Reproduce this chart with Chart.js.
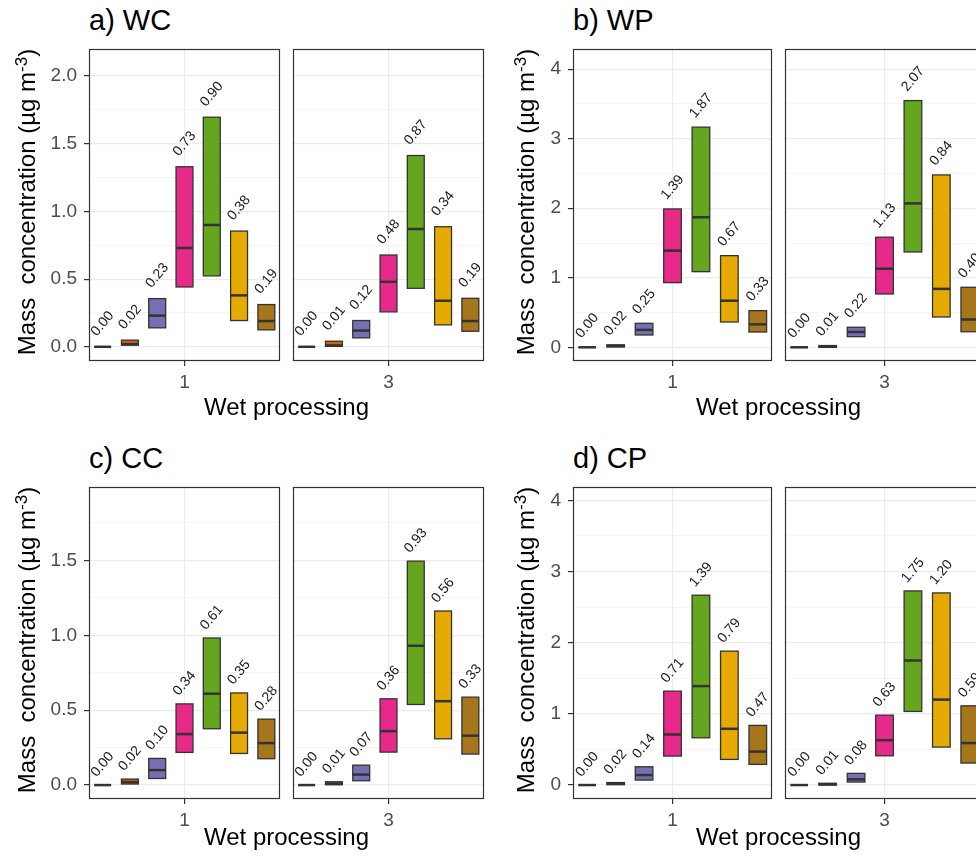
<!DOCTYPE html>
<html>
<head>
<meta charset="utf-8">
<script src="https://cdn.jsdelivr.net/npm/chart.js@4.4.0/dist/chart.umd.min.js"></script>
<style>
  body { margin: 0; background: #fff; }
  #fig { position: relative; width: 976px; height: 862px; overflow: hidden; background: #fff;
         font-family: "Liberation Sans", Arial, sans-serif; color: #000; }
  #fig canvas { position: absolute; }
  .ttl { position: absolute; font-size: 29px; line-height: 29px; white-space: nowrap; }
  .xt { position: absolute; width: 400px; font-size: 24px; line-height: 24px; text-align: center; white-space: nowrap; }
  .yt { position: absolute; width: 340px; height: 30px; font-size: 24px; line-height: 30px; text-align: center;
        white-space: pre; transform: rotate(-90deg); }
  .yt sup { font-size: 17px; line-height: 0; vertical-align: 0.5em; }
</style>
</head>
<body>
<div id="fig"></div>
<script>
// facets (x categories) and one colour per size class
const facets = ['1', '3'];
const seriesColors = ['#1B9E77', '#D95F02', '#7570B3', '#E7298A', '#66A61E', '#E6AB02', '#A6761D'];

// a) WC  -- [facet 1, facet 3]
const wcLow    = [[0, 0.012, 0.14, 0.442, 0.524, 0.194, 0.125], [0, 0.004, 0.066, 0.258, 0.432, 0.162, 0.115]];
const wcMedian = [[0.00, 0.02, 0.23, 0.73, 0.90, 0.38, 0.19], [0.00, 0.01, 0.12, 0.48, 0.87, 0.34, 0.19]];
const wcHigh   = [[0, 0.049, 0.356, 1.33, 1.696, 0.855, 0.312], [0, 0.041, 0.194, 0.678, 1.413, 0.887, 0.358]];
const wcTicks  = [0, 0.5, 1, 1.5, 2];

// b) WP
const wpLow    = [[0, 0.005, 0.177, 0.93, 1.088, 0.364, 0.22], [0, 0, 0.153, 0.767, 1.371, 0.436, 0.224]];
const wpMedian = [[0.00, 0.02, 0.25, 1.39, 1.87, 0.67, 0.33], [0.00, 0.01, 0.22, 1.13, 2.07, 0.84, 0.40]];
const wpHigh   = [[0, 0.035, 0.345, 1.99, 3.166, 1.318, 0.527], [0, 0.025, 0.288, 1.583, 3.548, 2.479, 0.863]];
const wpTicks  = [0, 1, 2, 3, 4];

// c) CC
const ccLow    = [[0, 0.007, 0.044, 0.218, 0.376, 0.211, 0.176], [0, 0.002, 0.029, 0.22, 0.538, 0.309, 0.207]];
const ccMedian = [[0.00, 0.02, 0.10, 0.34, 0.61, 0.35, 0.28], [0.00, 0.01, 0.07, 0.36, 0.93, 0.56, 0.33]];
const ccHigh   = [[0, 0.04, 0.178, 0.542, 0.982, 0.615, 0.44], [0, 0.022, 0.133, 0.576, 1.495, 1.162, 0.587]];
const ccTicks  = [0, 0.5, 1, 1.5];

// d) CP
const cpLow    = [[0, 0.005, 0.07, 0.407, 0.664, 0.36, 0.29], [0, 0, 0.042, 0.411, 1.034, 0.533, 0.309]];
const cpMedian = [[0.00, 0.02, 0.14, 0.71, 1.39, 0.79, 0.47], [0.00, 0.01, 0.08, 0.63, 1.75, 1.20, 0.59]];
const cpHigh   = [[0, 0.035, 0.257, 1.319, 2.667, 1.881, 0.838], [0, 0.025, 0.164, 0.982, 2.727, 2.699, 1.113]];
const cpTicks  = [0, 1, 2, 3, 4];

const FONT = '"Liberation Sans", Arial, sans-serif';
Chart.defaults.font.family = FONT;

// layout of the four panels (plot area of the first facet)
const panels = [
  { title: 'a) WC', low: wcLow, med: wcMedian, high: wcHigh, ticks: wcTicks, dec: 1, min: -0.105, max: 2.2,
    x: 89, y: 49, w: 191, off: 23, tx: 89, ty: 5.5, xtY: 395, ytX: 27, ytY: 202 },
  { title: 'b) WP', low: wpLow, med: wpMedian, high: wpHigh, ticks: wpTicks, dec: 0, min: -0.197, max: 4.29,
    x: 573, y: 49, w: 199, off: 21.5, tx: 573, ty: 5.5, xtY: 395, ytX: 526, ytY: 202 },
  { title: 'c) CC', low: ccLow, med: ccMedian, high: ccHigh, ticks: ccTicks, dec: 1, min: -0.093, max: 1.99,
    x: 89, y: 487, w: 191, off: 20.5, tx: 89, ty: 444, xtY: 825, ytX: 27, ytY: 640 },
  { title: 'd) CP', low: cpLow, med: cpMedian, high: cpHigh, ticks: cpTicks, dec: 0, min: -0.196, max: 4.187,
    x: 573, y: 487, w: 199, off: 20.5, tx: 573, ty: 444, xtY: 825, ytX: 526, ytY: 640 }
];
const PANEL_H = 312, GAP = 13, AXIS_W = 60, XAXIS_H = 40;

const fig = document.getElementById('fig');

// major ticks plus a minor line half way between them
function buildTicks(major, min, max) {
  const step = major[1] - major[0];
  const out = [];
  major.forEach(v => {
    out.push({ value: v });
    out.push({ value: v + step / 2, minor: true });
  });
  return out.filter(t => t.value >= min && t.value <= max);
}

// box outline + median bar + rotated median label + panel border
function makeBoxPlugin(offset) {
  return {
    id: 'crossbars',
    afterDatasetsDraw(chart) {
      const { ctx } = chart;
      const y = chart.scales.y;
      chart.data.datasets.forEach((ds, i) => {
        const el = chart.getDatasetMeta(i).data[0];
        const x0 = el.x - el.width / 2;
        const yTop = y.getPixelForValue(ds.data[0][1]);
        const yBot = y.getPixelForValue(ds.data[0][0]);
        const ym = y.getPixelForValue(ds.median);
        ctx.save();
        ctx.strokeStyle = '#333';
        ctx.lineWidth = 1.3;
        ctx.strokeRect(x0, yTop, el.width, yBot - yTop);
        ctx.lineWidth = 2.5;
        ctx.beginPath();
        ctx.moveTo(x0, ym);
        ctx.lineTo(x0 + el.width, ym);
        ctx.stroke();
        ctx.translate(el.x, yTop - offset);
        ctx.rotate(-50 * Math.PI / 180);
        ctx.fillStyle = '#1a1a1a';
        ctx.font = '14px ' + FONT;
        ctx.textAlign = 'center';
        ctx.textBaseline = 'middle';
        ctx.fillText(ds.median.toFixed(2), 0, 0);
        ctx.restore();
      });
    },
    afterDraw(chart) {
      const { ctx, chartArea: a } = chart;
      ctx.save();
      ctx.strokeStyle = '#333';
      ctx.lineWidth = 1.2;
      ctx.strokeRect(a.left + 0.5, a.top + 0.5, a.right - a.left - 1, a.bottom - a.top - 1);
      ctx.restore();
    }
  };
}

function makeChart(p, f) {
  const first = f === 0;
  const axisW = first ? AXIS_W : 0;
  const padL = first ? 0 : 2;
  const W = padL + axisW + p.w + 2;
  const H = 2 + PANEL_H + XAXIS_H;
  const cv = document.createElement('canvas');
  cv.width = W; cv.height = H;
  cv.style.width = W + 'px'; cv.style.height = H + 'px';
  cv.style.left = (p.x + f * (p.w + GAP) - axisW - padL) + 'px';
  cv.style.top = (p.y - 2) + 'px';
  fig.appendChild(cv);

  const ticks = buildTicks(p.ticks, p.min, p.max);
  const isMinor = c => c.tick && c.tick.minor;

  new Chart(cv, {
    type: 'bar',
    data: {
      labels: [facets[f]],
      datasets: seriesColors.map((c, i) => ({
        data: [[p.low[f][i], p.high[f][i]]],
        median: p.med[f][i],
        backgroundColor: c,
        borderWidth: 0,
        categoryPercentage: 1,
        barPercentage: 0.62
      }))
    },
    options: {
      responsive: false,
      animation: false,
      devicePixelRatio: 1,
      layout: { padding: { top: 2, right: 2, left: padL, bottom: 0 } },
      plugins: { legend: { display: false }, tooltip: { enabled: false } },
      scales: {
        x: {
          grid: { offset: false, color: '#ebebeb', lineWidth: 1.2, tickColor: '#333', tickLength: 5 },
          border: { display: false },
          ticks: { color: '#4d4d4d', font: { size: 19 }, padding: 5 },
          afterFit: s => { s.height = XAXIS_H; s.paddingLeft = 0; s.paddingRight = 0; }
        },
        y: {
          min: p.min,
          max: p.max,
          afterBuildTicks: s => { s.ticks = ticks.map(t => Object.assign({}, t)); },
          grid: {
            color: c => isMinor(c) ? '#f3f3f3' : '#ebebeb',
            lineWidth: c => isMinor(c) ? 0.8 : 1.2,
            tickColor: c => isMinor(c) ? 'rgba(0,0,0,0)' : '#333',
            tickLength: 5,
            drawTicks: first
          },
          border: { display: false },
          ticks: {
            display: first,
            autoSkip: false,
            color: '#4d4d4d',
            font: { size: 19 },
            padding: 7,
            callback: (v, i, arr) => arr[i].minor ? '' : Number(v).toFixed(p.dec)
          },
          afterFit: s => { s.width = axisW; s.paddingTop = 0; s.paddingBottom = 0; }
        }
      }
    },
    plugins: [makeBoxPlugin(p.off)]
  });
}

panels.forEach(p => {
  makeChart(p, 0);
  makeChart(p, 1);

  const t = document.createElement('div');
  t.className = 'ttl';
  t.textContent = p.title;
  t.style.left = p.tx + 'px';
  t.style.top = p.ty + 'px';
  fig.appendChild(t);

  const xt = document.createElement('div');
  xt.className = 'xt';
  xt.textContent = 'Wet processing';
  xt.style.left = (p.x + (2 * p.w + GAP) / 2 - 200) + 'px';
  xt.style.top = p.xtY + 'px';
  fig.appendChild(xt);

  const yt = document.createElement('div');
  yt.className = 'yt';
  yt.innerHTML = 'Mass  concentration (\u00b5g m<sup>-3</sup>)';
  yt.style.left = (p.ytX - 170) + 'px';
  yt.style.top = (p.ytY - 15) + 'px';
  fig.appendChild(yt);
});
</script>
</body>
</html>
